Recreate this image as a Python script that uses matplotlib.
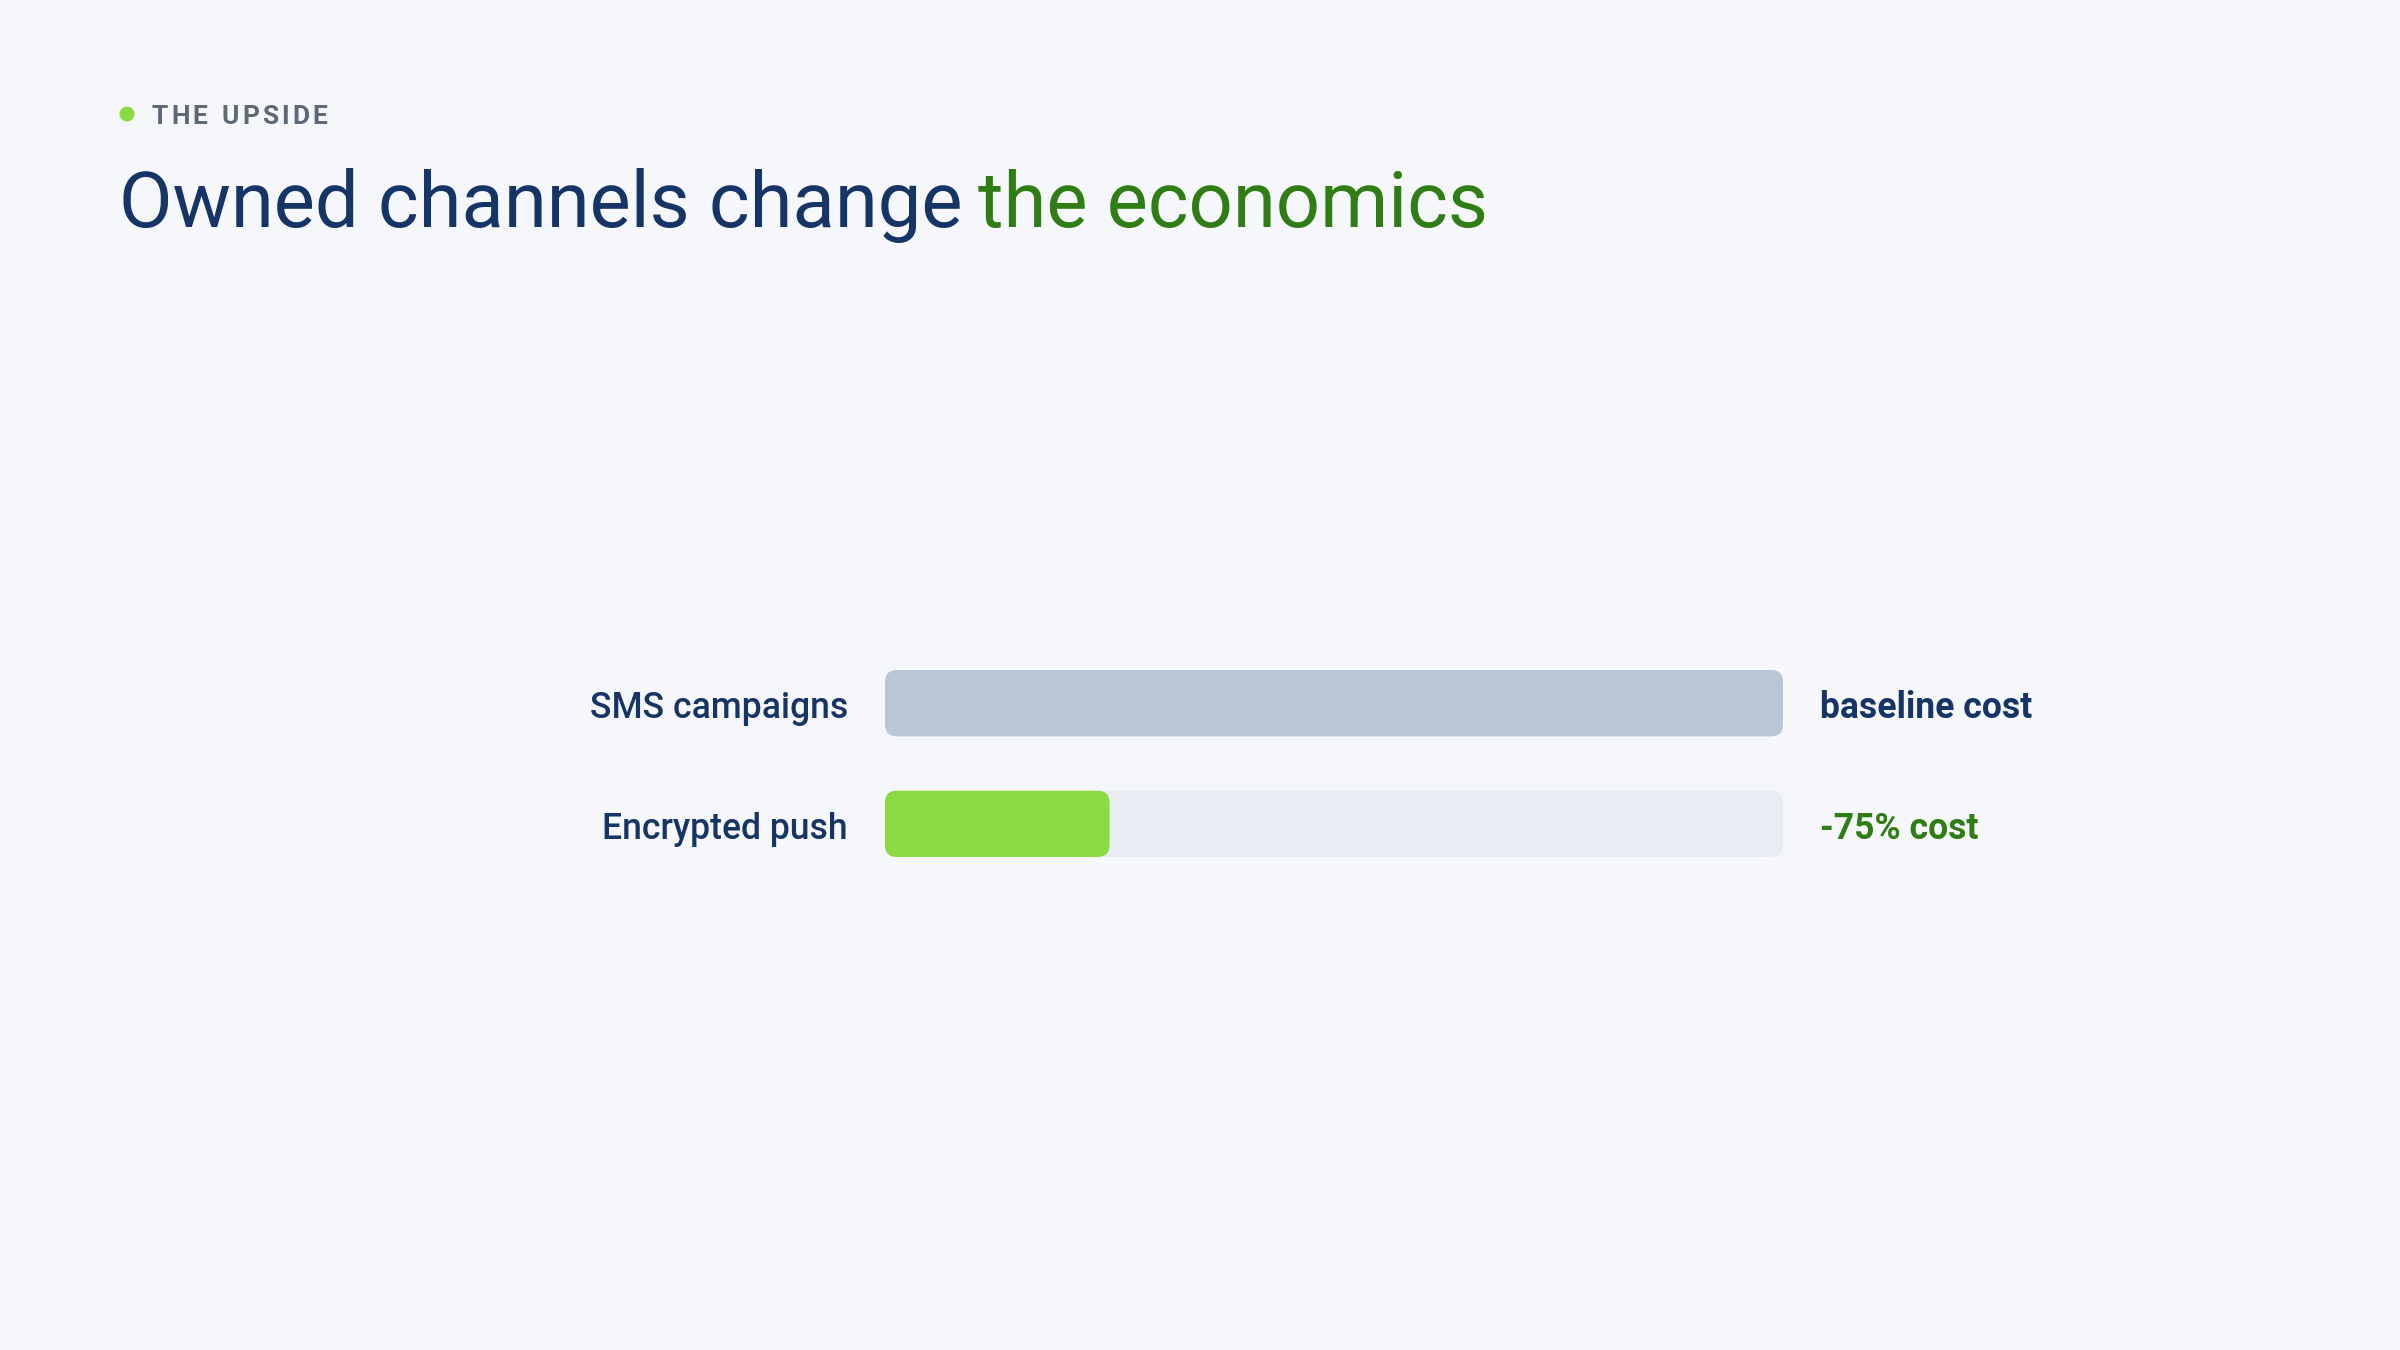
import matplotlib
matplotlib.use("Agg")
import matplotlib.pyplot as plt
from matplotlib.patches import FancyBboxPatch, Ellipse

# data
channels = ["SMS campaigns", "Encrypted push"]
relative_cost = [100, 25]
value_labels = ["baseline cost", "-75% cost"]

kicker = "THE UPSIDE"
title_main = "Owned channels change"
title_accent = "the economics"

BG = "#f5f7fb"
NAVY = "#163466"
GREEN_TXT = "#2f7d14"
GREEN_BAR = "#8ada41"
GREY_BAR = "#b9c6d8"
TRACK = "#e8edf4"
KICKER_GREY = "#5d6879"

plt.rcParams['font.family'] = ['Roboto', 'DejaVu Sans']

W, H = 2400, 1350
fig = plt.figure(figsize=(12, 6.75), dpi=200, facecolor=BG)
r = fig.canvas.get_renderer()

# kicker dot + letter-spaced kicker
fig.add_artist(Ellipse((127 / W, 1 - 114 / H), 15 / W, 15 / H, transform=fig.transFigure,
                       color=GREEN_BAR, ec="none"))
kx = 152
for ch in kicker:
    t = fig.text(kx / W, 1 - 124 / H, ch, color=KICKER_GREY, fontsize=9.5,
                 fontweight='bold', va='baseline', ha='left')
    if ch == " ":
        adv = 8
    else:
        adv = t.get_window_extent(renderer=r).width
    kx += adv + 3

# title in two colours
t1 = fig.text(119 / W, 1 - 227 / H, title_main, color=NAVY, fontsize=28,
              fontweight='normal', va='baseline', ha='left')
bb = t1.get_window_extent(renderer=r)
fig.text((bb.x1 + 15) / W, 1 - 227 / H, title_accent, color=GREEN_TXT,
         fontsize=28, fontweight='normal', va='baseline', ha='left')

# bars
x0, x1 = 885, 1783
y_top, y_bot = 670, 857
ax = fig.add_axes([x0 / W, 1 - y_bot / H, (x1 - x0) / W, (y_bot - y_top) / H])
ax.set_facecolor("none")
bar_h = 0.55
ax.set_xlim(0, 100)
ax.set_ylim(len(channels) - 1 + bar_h / 2, -bar_h / 2)
ax.axis('off')

px_x = (x1 - x0) / 100.0
px_y = (y_bot - y_top) / (len(channels) - 1 + bar_h)
aspect = px_x / px_y
rad = 12 / px_x
dy = 15 / px_y  # baseline offset below bar centre

for i, (name, val, lab) in enumerate(zip(channels, relative_cost, value_labels)):
    if val < 100:
        ax.add_patch(FancyBboxPatch((0, i - bar_h / 2), 100, bar_h,
                                    boxstyle=f"round,pad=0,rounding_size={rad}",
                                    mutation_aspect=aspect, fc=TRACK, ec="none"))
    color = GREY_BAR if i == 0 else GREEN_BAR
    ax.add_patch(FancyBboxPatch((0, i - bar_h / 2), val, bar_h,
                                boxstyle=f"round,pad=0,rounding_size={rad}",
                                mutation_aspect=aspect, fc=color, ec="none"))
    ax.text(-37 / px_x, i + dy, name, ha='right', va='baseline', color=NAVY,
            fontsize=12.8, fontweight='medium')
    ax.text(100 + 37 / px_x, i + dy, lab, ha='left', va='baseline',
            color=NAVY if i == 0 else GREEN_TXT, fontsize=12.8, fontweight='bold')

fig.savefig("out.png", dpi=200, facecolor=BG)
